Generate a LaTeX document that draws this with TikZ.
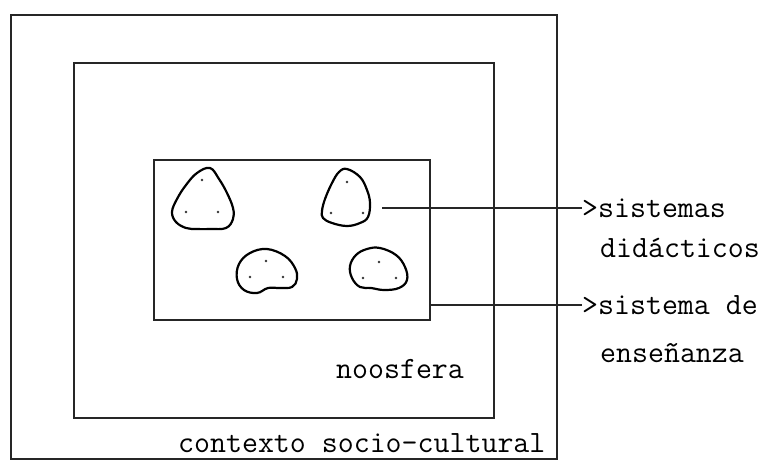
\documentclass[tikz,border=0pt]{standalone}
\usepackage{fontspec}
\begin{document}
\begin{tikzpicture}[x=1pt,y=-1pt,
  frame/.style={draw=black!85,line width=1.1pt},
  blob/.style={draw=black,line width=2.2pt,line join=round},
  seed/.style={fill=black!80,radius=1.3pt},
  label/.style={inner sep=0pt,anchor=base west,font=\fontsize{31}{37}\selectfont\ttfamily},
  link/.style={draw=black!85,line width=1.1pt}]
\useasboundingbox (0,0) rectangle (761,464);

% nested frames: socio-cultural context, noosphere, teaching system
\draw[frame] (11,15) rectangle (557,459);
\draw[frame] (74,63) rectangle (494,418);
\draw[frame] (154,160) rectangle (430,320);

% didactic systems
\draw[blob] plot[smooth cycle,tension=0.65] coordinates {
  (210,168) (219,179) (227,193) (233,208) (233,219) (226,228)
  (210,229) (197,229) (186,228) (176,222) (172,212) (177,199)
  (186,185) (197,173)};
\fill[seed] (202,180) circle; \fill[seed] (186,212) circle; \fill[seed] (218,212) circle;

\draw[blob] plot[smooth cycle,tension=0.65] coordinates {
  (347,169) (360,177) (367,190) (370,203) (368,217) (360,223)
  (347,226) (332,223) (323,218) (322,211) (325,199) (332,183) (339,172)};
\fill[seed] (347,182) circle; \fill[seed] (331,213) circle; \fill[seed] (363,213) circle;

\draw[blob] plot[smooth cycle,tension=0.65] coordinates {
  (267,249) (285,256) (295,268) (297,279) (292,287) (280,288)
  (268,288) (257,293) (244,290) (237,279) (239,264) (250,253)};
\fill[seed] (266,261) circle; \fill[seed] (250,277) circle; \fill[seed] (283,277) circle;

\draw[blob] plot[smooth cycle,tension=0.65] coordinates {
  (380,248) (396,255) (405,267) (407,280) (399,288) (384,290)
  (371,288) (360,287) (352,278) (350,266) (356,255) (367,249)};
\fill[seed] (379,262) circle; \fill[seed] (363,278) circle; \fill[seed] (396,278) circle;

% connector start points
\coordinate (dsys) at (382,208);
\coordinate (tsys) at (430,305);

% labels
\node[label] (sis) at (582,217) {>sistemas};
\node[label] (did) at (600,257) {didácticos};
\node[label] (sen) at (582,314) {>sistema de};
\node[label] (ens) at (600,362) {enseñanza};
\node[label] (noo) at (336,378) {noosfera};
\node[label] (ctx) at (178,452) {contexto socio-cultural};

% connectors
\draw[link] (dsys) -- (dsys -| sis.west);
\draw[link] (tsys) -- (tsys -| sen.west);
\end{tikzpicture}
\end{document}
